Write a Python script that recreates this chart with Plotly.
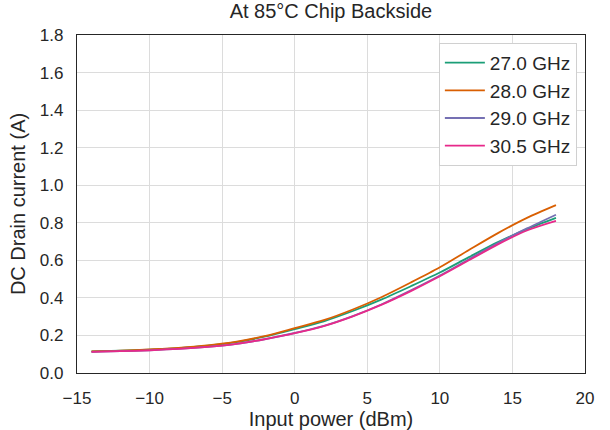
import plotly.graph_objects as go

input_power = [-14, -12, -10, -8, -6, -4, -2, 0, 2, 4, 6, 8, 10, 12, 14, 16, 18]

i_27_0 = [0.115, 0.119, 0.125, 0.133, 0.146, 0.165, 0.195, 0.234, 0.275, 0.330, 0.392, 0.462, 0.535, 0.617, 0.697, 0.766, 0.826]
i_28_0 = [0.115, 0.119, 0.126, 0.134, 0.147, 0.167, 0.198, 0.239, 0.281, 0.338, 0.405, 0.482, 0.563, 0.655, 0.745, 0.826, 0.894]
i_29_0 = [0.113, 0.116, 0.121, 0.128, 0.139, 0.155, 0.181, 0.213, 0.251, 0.303, 0.366, 0.440, 0.519, 0.606, 0.692, 0.770, 0.843]
i_30_5 = [0.113, 0.116, 0.121, 0.128, 0.139, 0.155, 0.181, 0.212, 0.250, 0.302, 0.364, 0.436, 0.515, 0.600, 0.685, 0.759, 0.810]

series_names = ["27.0 GHz", "28.0 GHz", "29.0 GHz", "30.5 GHz"]
series_values = [i_27_0, i_28_0, i_29_0, i_30_5]
colors = ["#1b9e77", "#d95f02", "#7570b3", "#e7298a"]

fig = go.Figure()
for name, vals, c in zip(series_names, series_values, colors):
    fig.add_trace(go.Scatter(x=input_power, y=vals, mode="lines", name=name,
                             line=dict(color=c, width=1.8, shape="spline", smoothing=0.8)))

font_family = "Liberation Sans, Arial, sans-serif"
fig.update_layout(
    width=610, height=430,
    margin=dict(l=77, r=25, t=35, b=57, autoexpand=False),
    paper_bgcolor="white", plot_bgcolor="white",
    font=dict(family=font_family, size=17, color="#262626"),
    title=dict(text="At 85°C Chip Backside", x=0.5425, xanchor="center", y=0.99, yanchor="top",
               font=dict(size=20, color="#262626"), automargin=False),
    legend=dict(x=0.984, y=0.977, xanchor="right", yanchor="top",
                bgcolor="white", bordercolor="#d0d0d0", borderwidth=1,
                font=dict(size=19), tracegroupgap=0, itemwidth=40),
    showlegend=True,
)
fig.update_xaxes(range=[-15, 20], dtick=5, tick0=-15, automargin=False,
                 showgrid=True, gridcolor="#dcdcdc", gridwidth=1.3,
                 showline=True, linecolor="#262626", linewidth=1.3, mirror=True,
                 zeroline=False, ticks="", ticklabelstandoff=9,
                 title=dict(text="Input power (dBm)", font=dict(size=20), standoff=4))
fig.update_yaxes(range=[0, 1.8], dtick=0.2, tick0=0, tickformat=".1f", automargin=False,
                 showgrid=True, gridcolor="#dcdcdc", gridwidth=1.3,
                 showline=True, linecolor="#262626", linewidth=1.3, mirror=True,
                 zeroline=False, ticks="", ticklabelstandoff=9,
                 title=dict(text="DC Drain current (A)", font=dict(size=20), standoff=8))

fig.write_html("out.html")
